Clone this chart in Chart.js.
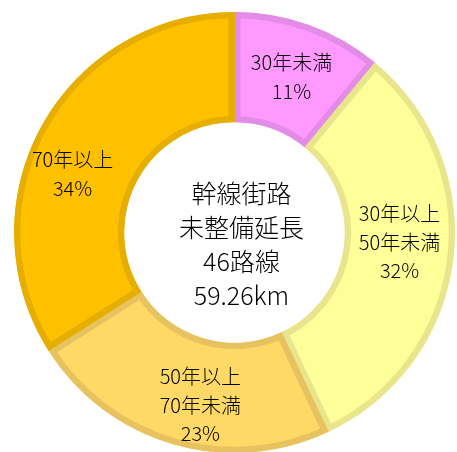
<!DOCTYPE html>
<html>
<head>
<meta charset="utf-8">
<script src="https://cdn.jsdelivr.net/npm/chart.js@4.4.0/dist/chart.umd.min.js"></script>
<style>
html, body { margin:0; padding:0; background:#fff; }
#wrap { position:absolute; left:14px; top:12px; width:441px; height:441px; }
</style>
</head>
<body>
<div id="wrap"><canvas id="donut"></canvas></div>
<script>
// data
var labels = [['30年未満'], ['30年以上', '50年未満'], ['50年以上', '70年未満'], ['70年以上']];
var values = [11, 32, 23, 34];
var centerText = ['幹線街路', '未整備延長', '46路線', '59.26km'];

var fills   = ['#FF99FF', '#FFFF99', '#FFD966', '#FFC000'];
var borders = ['#E28CE8', '#E8E58C', '#E6C35E', '#E6AE00'];
// nudge each label a bit from the arc centre (px)
var nudge = [[1, 0], [1, -11], [12, 14], [-17, 21]];

var FONT = '"Noto Sans CJK JP", "Noto Sans", sans-serif';

var labelPlugin = {
    id: 'segLabels',
    afterDatasetsDraw: function(chart) {
        var ctx = chart.ctx;
        var meta = chart.getDatasetMeta(0);
        ctx.save();
        ctx.fillStyle = '#000';
        ctx.textAlign = 'center';
        ctx.textBaseline = 'middle';
        ctx.font = '300 20px ' + FONT;
        for (var i = 0; i < meta.data.length; i++) {
            var p = meta.data[i].getCenterPoint();
            var lines = labels[i].concat([values[i] + '%']);
            var lh = 28.5;
            var y0 = p.y + nudge[i][1] - (lines.length - 1) * lh / 2;
            for (var j = 0; j < lines.length; j++) {
                ctx.fillText(lines[j], p.x + nudge[i][0], y0 + j * lh);
            }
        }
        // centre text
        var a = meta.data[0];
        ctx.font = '300 25px ' + FONT;
        var lh2 = 34;
        var cy = a.y + 12 - (centerText.length - 1) * lh2 / 2;
        for (var k = 0; k < centerText.length; k++) {
            ctx.fillText(centerText[k], a.x + 7, cy + k * lh2);
        }
        ctx.restore();
    }
};

var ctx1 = document.getElementById('donut').getContext('2d');
var myChart1 = new Chart(ctx1, {
    type: 'doughnut',
    data: {
        labels: labels.map(function(l){ return l.join(''); }),
        datasets: [{
            data: values,
            backgroundColor: fills,
            borderColor: borders,
            borderWidth: 6,
            borderAlign: 'inner',
            hoverOffset: 0
        }]
    },
    options: {
        responsive: true,
        maintainAspectRatio: false,
        animation: false,
        cutout: '50%',
        layout: { padding: 0 },
        plugins: {
            legend: { display: false },
            tooltip: { enabled: false }
        }
    },
    plugins: [labelPlugin]
});
</script>
</body>
</html>
